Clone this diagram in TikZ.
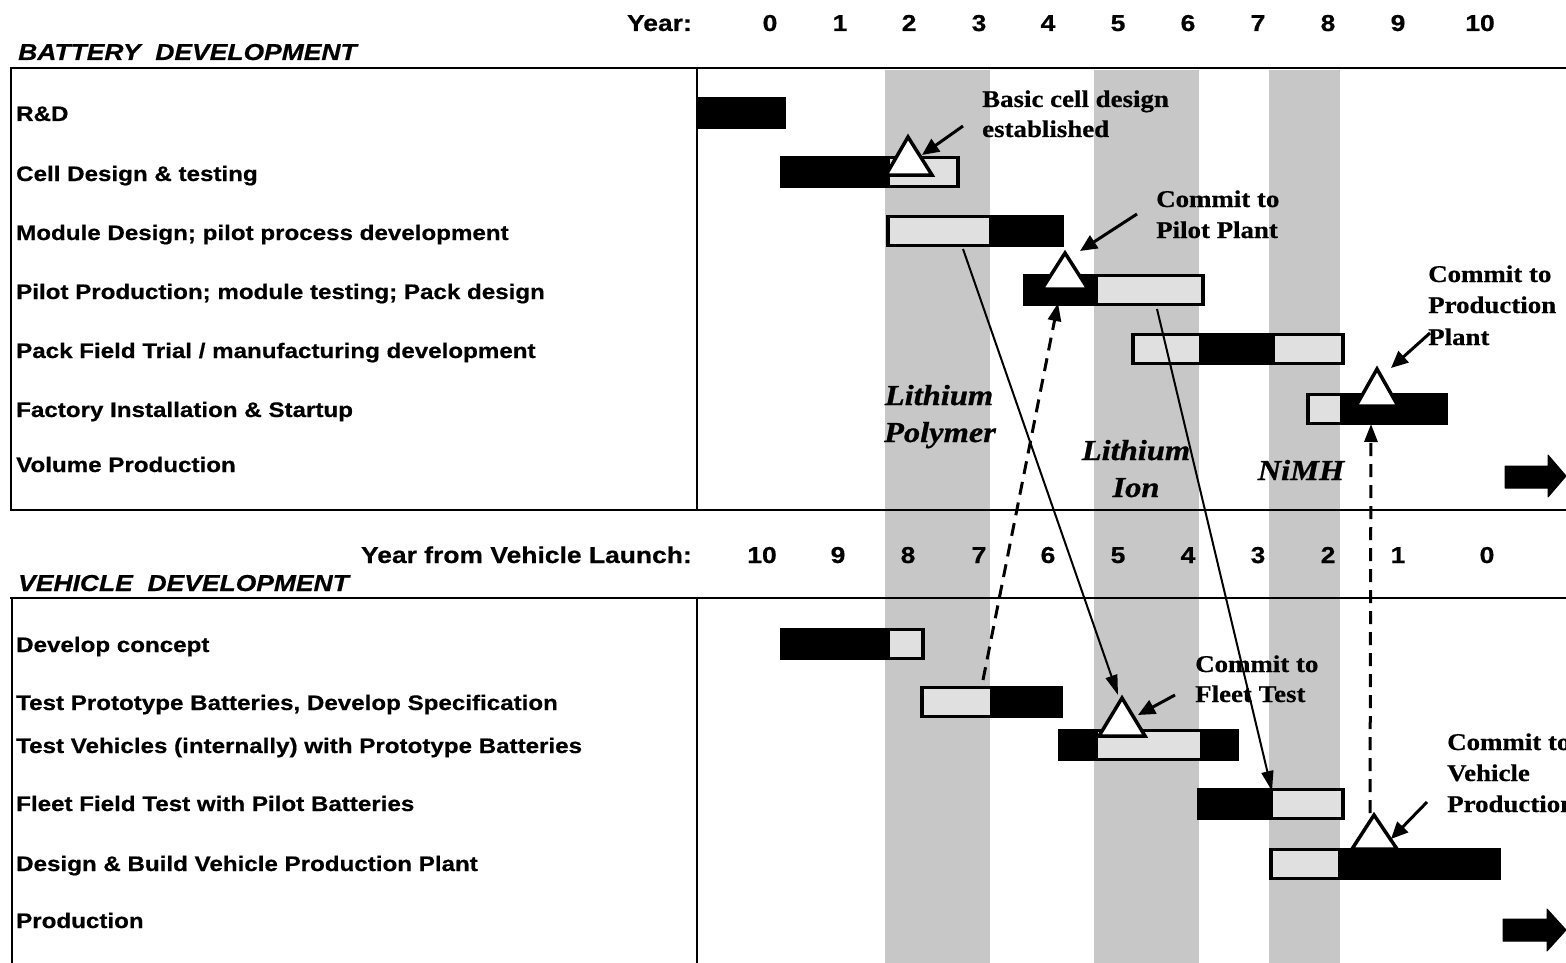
\documentclass[tikz,border=0pt]{standalone}
\usepackage{fontspec}
\setmainfont{Liberation Serif}[FakeStretch=1.12,BoldFeatures={FakeBold=0.6},BoldItalicFeatures={FakeBold=0.8}]
\newfontfamily\arialf{Liberation Sans}[FakeStretch=1.15,BoldFeatures={FakeBold=0.6},BoldItalicFeatures={FakeBold=0.6}]
\usetikzlibrary{arrows.meta}
\begin{document}
\begin{tikzpicture}[x=1pt,y=-1pt,
  rowlbl/.style={anchor=base west,inner sep=0,font=\arialf\bfseries\fontsize{21}{23}\selectfont},
  head/.style={anchor=base west,inner sep=0,font=\arialf\bfseries\itshape\fontsize{23}{25}\selectfont},
  yr/.style={anchor=base,inner sep=0,font=\arialf\bfseries\fontsize{23}{25}\selectfont},
  note/.style={anchor=base west,inner sep=0,font=\bfseries\fontsize{24}{26}\selectfont},
  chem/.style={anchor=base,inner sep=0,font=\bfseries\itshape\fontsize{29}{31}\selectfont},
  band/.style={fill=black!22,draw=none},
  frame/.style={line width=2pt},
  blk/.style={fill=black,draw=black,line width=1pt,minimum height=31,inner sep=0,anchor=west},
  wbox/.style={fill=black!12,draw=black,line width=3.5pt,minimum height=29,inner sep=0,anchor=west},
  tri/.style={fill=white,draw=black,line width=3.5pt,line join=miter},
  ptr/.style={line width=3pt,-{Triangle[length=17pt,width=15pt]}},
  link/.style={line width=2pt,-{Triangle[length=20pt,width=12pt]}},
  dlink/.style={line width=3pt,dash pattern=on 13pt off 8pt,-{Triangle[length=18pt,width=13pt]}},
  bigarrow/.style={fill=black,draw=black,line width=1pt,line join=round}
]
\useasboundingbox (0,0) rectangle (1566,963);
\clip (0,0) rectangle (1566,963);

% shaded technology bands
\fill[band] (885,70) rectangle (990,963);
\fill[band] (1094,70) rectangle (1199,963);
\fill[band] (1269,70) rectangle (1340,963);

% header
\node[yr,anchor=base east] (yrlbl) at (692,31) {Year:};
\foreach \n/\x in {0/770,1/840,2/909,3/979,4/1048,5/1118,6/1188,7/1258,8/1328,9/1398,10/1480}
  \node[yr] (ya\n) at (\x,31) {\n};
\node[head] (bathead) at (18,60) {BATTERY\ \ DEVELOPMENT};

% top panel frame
\draw[frame] (10,68) -- (1570,68);
\draw[frame] (10,510) -- (1570,510);
\draw[frame] (11,68) -- (11,510);
\draw[frame] (697,68) -- (697,510);

% lower header
\node[yr,anchor=base east] (yvlbl) at (692,563) {Year from Vehicle Launch:};
\foreach \n/\x in {10/762,9/838,8/908,7/979,6/1048,5/1118,4/1188,3/1258,2/1328,1/1398,0/1487}
  \node[yr] (yb\n) at (\x,563) {\n};
\node[head] (vehhead) at (18,591) {VEHICLE\ \ DEVELOPMENT};

% lower panel frame
\draw[frame] (10,598) -- (1570,598);
\draw[frame] (12,598) -- (12,963);
\draw[frame] (697,598) -- (697,963);

% battery rows
\node[rowlbl] (r1) at (16,121) {R\&D};
\node[rowlbl] (r2) at (16,181) {Cell Design \& testing};
\node[rowlbl] (r3) at (16,240) {Module Design; pilot process development};
\node[rowlbl] (r4) at (16,299) {Pilot Production; module testing; Pack design};
\node[rowlbl] (r5) at (16,358) {Pack Field Trial / manufacturing development};
\node[rowlbl] (r6) at (16,417) {Factory Installation \& Startup};
\node[rowlbl] (r7) at (16,472) {Volume Production};

% vehicle rows
\node[rowlbl] (v1) at (16,652) {Develop concept};
\node[rowlbl] (v2) at (16,710) {Test Prototype Batteries, Develop Specification};
\node[rowlbl] (v3) at (16,753) {Test Vehicles (internally) with Prototype Batteries};
\node[rowlbl] (v4) at (16,811) {Fleet Field Test with Pilot Batteries};
\node[rowlbl] (v5) at (16,871) {Design \& Build Vehicle Production Plant};
\node[rowlbl] (v6) at (16,928) {Production};

% battery bars
\node[blk,minimum width=88] (rd) at (697,113) {};
\node[blk,minimum width=106] (cellA) at (780,172) {};
\node[wbox,minimum width=70] (cellB) at (886,172) {};
\node[blk,minimum width=75] (modB) at (988,231) {};
\node[wbox,minimum width=103] (modA) at (886,231) {};
\node[blk,minimum width=72] (pilA) at (1023,290) {};
\node[wbox,minimum width=107] (pilB) at (1094,290) {};
\node[blk,minimum width=72] (packB) at (1199,349) {};
\node[wbox,minimum width=68] (packA) at (1131,349) {};
\node[wbox,minimum width=70] (packC) at (1271,349) {};
\node[blk,minimum width=108] (facB) at (1339,409) {};
\node[wbox,minimum width=34] (facA) at (1306,409) {};
\draw[bigarrow] (1505,466) -- (1548,466) -- (1548,455) -- (1566,476) -- (1548,497) -- (1548,488) -- (1505,488) -- cycle;

% vehicle bars
\node[blk,minimum width=106] (devA) at (780,644) {};
\node[wbox,minimum width=35] (devB) at (886,644) {};
\node[blk,minimum width=73] (tpB) at (989,702) {};
\node[wbox,minimum width=70] (tpA) at (920,702) {};
\node[blk,minimum width=180] (tvA) at (1058,745) {};
\node[wbox,minimum width=106] (tvB) at (1094,745) {};
\node[blk,minimum width=72] (flA) at (1197,804) {};
\node[wbox,minimum width=72] (flB) at (1269,804) {};
\node[blk,minimum width=163] (dbB) at (1337,864) {};
\node[wbox,minimum width=69] (dbA) at (1269,864) {};
\draw[bigarrow] (1503,919) -- (1547,919) -- (1547,909) -- (1566,930) -- (1547,951) -- (1547,941) -- (1503,941) -- cycle;

% milestones (triangles)
\draw[tri] (908,137) coordinate (m1) -- (932,175) -- (886,175) -- cycle;
\draw[tri] (1065,253) coordinate (m2) -- (1088,289) -- (1042,289) -- cycle;
\draw[tri] (1377,369) coordinate (m3) -- (1398,406) -- (1356,406) -- cycle;
\draw[tri] (1122,698) coordinate (m4) -- (1145,736) -- (1099,736) -- cycle;
\draw[tri] (1374,815) coordinate (m5) -- (1397,849) -- (1352,849) -- cycle;

% technology labels
\node[chem] (lp1) at (939,405) {Lithium};
\node[chem] (lp2) at (940,442) {Polymer};
\node[chem] (li1) at (1136,460) {Lithium};
\node[chem] (li2) at (1136,497) {Ion};
\node[chem] (nimh) at (1301,480) {NiMH};

% milestone notes
\node[note] (n1a) at (982,107) {Basic cell design};
\node[note] (n1b) at (982,137) {established};
\node[note] (n2a) at (1156,207) {Commit to};
\node[note] (n2b) at (1156,238) {Pilot Plant};
\node[note] (n3a) at (1428,282) {Commit to};
\node[note] (n3b) at (1428,313) {Production};
\node[note] (n3c) at (1428,345) {Plant};
\node[note] (n4a) at (1195,672) {Commit to};
\node[note] (n4b) at (1195,702) {Fleet Test};
\node[note] (n5a) at (1447,750) {Commit to};
\node[note] (n5b) at (1447,781) {Vehicle};
\node[note] (n5c) at (1447,812) {Production};

% short pointers from notes to milestones
\coordinate (p1s) at (963,126); \coordinate (p1e) at (922,155);
\coordinate (p2s) at (1137,214); \coordinate (p2e) at (1080,251);
\coordinate (p3s) at (1430,333); \coordinate (p3e) at (1391,368);
\coordinate (p4s) at (1175,695); \coordinate (p4e) at (1138,715);
\coordinate (p5s) at (1427,802); \coordinate (p5e) at (1391,839);
\draw[ptr] (p1s) -- (p1e);
\draw[ptr] (p2s) -- (p2e);
\draw[ptr] (p3s) -- (p3e);
\draw[ptr] (p4s) -- (p4e);
\draw[ptr] (p5s) -- (p5e);

% dependency links
\coordinate (c1s) at (963,249); \coordinate (c1e) at (1118,695);
\coordinate (c2s) at (1157,309); \coordinate (c2e) at (1272,791);
\coordinate (c3s) at (983,680); \coordinate (c3e) at (1058,303);
\coordinate (c4s) at (1370,813); \coordinate (c4e) at (1371,424);
\draw[link] (c1s) -- (c1e);
\draw[link] (c2s) -- (c2e);
\draw[dlink] (c3s) -- (c3e);
\draw[dlink] (c4s) -- (c4e);
\end{tikzpicture}
\end{document}
